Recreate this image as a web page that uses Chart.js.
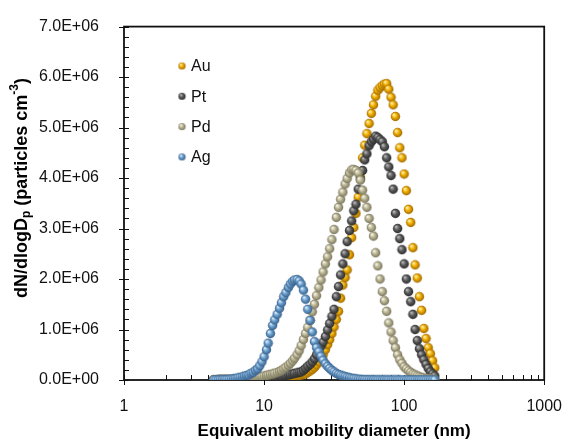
<!DOCTYPE html>
<html lang="en">
<head>
<meta charset="UTF-8" />
<title>Size distributions</title>
<script src="https://cdn.jsdelivr.net/npm/chart.js"></script>
<style>
  body { margin: 0; background: #fff; }
  canvas { display: block; }
</style>
</head>
<body>
<canvas id="chart" width="571" height="442"></canvas>
<script>
// SMPS channel midpoints (nm)
const diameters = [
  4.37, 4.53, 4.70, 4.87, 5.05, 5.23, 5.42, 5.62, 5.83, 6.04,
  6.26, 6.49, 6.73, 6.98, 7.23, 7.50, 7.77, 8.06, 8.35, 8.66,
  8.98, 9.31, 9.65, 10.0, 10.4, 10.7, 11.1, 11.5, 11.9, 12.4,
  12.9, 13.3, 13.8, 14.3, 14.9, 15.4, 16.0, 16.5, 17.2, 17.8,
  18.4, 19.1, 19.8, 20.5, 21.3, 22.1, 22.9, 23.7, 24.6, 25.5,
  26.4, 27.4, 28.4, 29.4, 30.5, 31.6, 32.8, 34.0, 35.2, 36.5,
  37.9, 39.2, 40.7, 42.2, 43.7, 45.3, 47.0, 48.7, 50.5, 52.3,
  54.2, 56.2, 58.3, 60.4, 62.6, 64.9, 67.3, 69.8, 72.3, 75.0,
  77.7, 80.6, 83.5, 86.6, 89.8, 93.1, 96.5, 100.0, 103.7, 107.5,
  111.4, 115.5, 119.7, 124.1, 128.6, 133.3, 138.2, 143.3, 148.6, 154.0,
  159.6, 165.5
];

// dN/dlogDp in units of 1E+06 particles cm-3
const au = [
  0, 0, 0, 0.001, 0.001, 0.001, 0.001, 0.002, 0.002, 0.002,
  0.003, 0.003, 0.004, 0.004, 0.005, 0.006, 0.007, 0.008, 0.009, 0.010,
  0.012, 0.014, 0.016, 0.018, 0.020, 0.022, 0.025, 0.028, 0.030, 0.034,
  0.038, 0.042, 0.046, 0.050, 0.055, 0.060, 0.065, 0.070, 0.080, 0.090,
  0.10, 0.11, 0.12, 0.15, 0.18, 0.21, 0.25, 0.30, 0.36, 0.43,
  0.50, 0.60, 0.70, 0.80, 0.92, 1.05, 1.20, 1.36, 1.62, 1.88,
  2.03, 2.18, 2.48, 2.82, 3.02, 3.30, 3.62, 4.02, 4.40, 4.65,
  4.88, 5.08, 5.28, 5.45, 5.62, 5.74, 5.79, 5.83, 5.86, 5.87,
  5.76, 5.60, 5.45, 5.22, 4.90, 4.60, 4.40, 4.08, 3.75, 3.38,
  3.12, 2.62, 2.28, 2.02, 1.65, 1.38, 1.02, 0.82, 0.64, 0.52,
  0.38, 0.24
];
const pt = [
  0, 0, 0.001, 0.001, 0.001, 0.002, 0.002, 0.003, 0.003, 0.004,
  0.005, 0.006, 0.007, 0.008, 0.010, 0.011, 0.013, 0.015, 0.017, 0.020,
  0.022, 0.025, 0.028, 0.032, 0.036, 0.040, 0.045, 0.050, 0.055, 0.060,
  0.065, 0.070, 0.080, 0.090, 0.10, 0.11, 0.12, 0.13, 0.14, 0.15,
  0.16, 0.19, 0.23, 0.27, 0.31, 0.36, 0.42, 0.50, 0.58, 0.67,
  0.75, 0.86, 0.99, 1.12, 1.26, 1.40, 1.65, 1.85, 2.08, 2.30,
  2.50, 2.74, 2.96, 3.15, 3.35, 3.48, 3.78, 3.98, 4.15, 4.36,
  4.48, 4.64, 4.72, 4.77, 4.83, 4.80, 4.76, 4.72, 4.62, 4.40,
  4.22, 4.05, 3.78, 3.30, 3.00, 2.80, 2.58, 2.30, 2.00, 1.75,
  1.55, 1.30, 1.00, 0.78, 0.62, 0.50, 0.40, 0.31, 0.23, 0.16,
  0.12, 0.08
];
const pd = [
  0.001, 0.001, 0.002, 0.003, 0.004, 0.005, 0.006, 0.008, 0.010, 0.012,
  0.015, 0.018, 0.022, 0.026, 0.030, 0.035, 0.040, 0.045, 0.050, 0.055,
  0.060, 0.065, 0.070, 0.080, 0.090, 0.10, 0.11, 0.12, 0.13, 0.15,
  0.17, 0.19, 0.22, 0.25, 0.29, 0.33, 0.38, 0.43, 0.50, 0.58,
  0.68, 0.80, 0.92, 1.04, 1.18, 1.35, 1.50, 1.67, 1.83, 1.98,
  2.14, 2.30, 2.44, 2.60, 2.78, 2.98, 3.22, 3.42, 3.58, 3.72,
  3.88, 3.99, 4.10, 4.16, 4.17, 4.15, 4.10, 3.96, 3.76, 3.60,
  3.42, 3.20, 3.02, 2.85, 2.52, 2.26, 2.00, 1.75, 1.57, 1.36,
  1.13, 0.95, 0.78, 0.64, 0.50, 0.40, 0.33, 0.26, 0.22, 0.18,
  0.15, 0.12, 0.10, 0.08, 0.065, 0.050, 0.040, 0.030, 0.025, 0.020,
  0.015, 0.010
];
const ag = [
  0, 0, 0.002, 0.003, 0.005, 0.007, 0.009, 0.012, 0.017, 0.022,
  0.030, 0.040, 0.050, 0.060, 0.075, 0.090, 0.10, 0.13, 0.15, 0.19,
  0.22, 0.28, 0.36, 0.46, 0.60, 0.73, 0.92, 1.08, 1.19, 1.30,
  1.42, 1.53, 1.65, 1.73, 1.83, 1.90, 1.95, 1.98, 1.99, 1.96,
  1.90, 1.78, 1.60, 1.40, 1.18, 0.95, 0.76, 0.64, 0.56, 0.47,
  0.39, 0.32, 0.27, 0.23, 0.19, 0.16, 0.13, 0.11, 0.095, 0.080,
  0.070, 0.055, 0.045, 0.035, 0.028, 0.022, 0.017, 0.013, 0.010, 0.008,
  0.006, 0.005, 0.004, 0.003, 0.002, 0.002, 0.002, 0.002, 0.001, 0.001,
  0.001, 0.001, 0.001, 0.001, 0.001, 0.001, 0, 0, 0, 0,
  0, 0, 0, 0, 0, 0, 0, 0, 0, 0,
  0, 0
];

const seriesNames = ['Au', 'Pt', 'Pd', 'Ag'];
const seriesValues = [au, pt, pd, ag];
// highlight, body, shadow
const seriesShades = [
  ['#fff0b0', '#f2b000', '#9c6500'],
  ['#b8b8b8', '#5e5e5e', '#282828'],
  ['#f6f4e6', '#bbb695', '#77735a'],
  ['#dcecf9', '#6b9fcf', '#355d86']
];
const yTickMax = 7;
const xTickLabels = [1, 10, 100, 1000];

function sphere(shades, r) {
  const c = document.createElement('canvas');
  c.width = c.height = Math.ceil(r * 2) + 1;
  const g = c.getContext('2d');
  const m = c.width / 2;
  const grad = g.createRadialGradient(m - r * 0.35, m - r * 0.4, r * 0.1, m, m, r);
  grad.addColorStop(0, shades[0]);
  grad.addColorStop(0.45, shades[1]);
  grad.addColorStop(1, shades[2]);
  g.fillStyle = grad;
  g.beginPath();
  g.arc(m, m, r, 0, Math.PI * 2);
  g.fill();
  return c;
}

const datasets = seriesNames.map((name, i) => ({
  label: name,
  data: diameters.map((d, k) => ({ x: d, y: seriesValues[i][k] })),
  pointStyle: sphere(seriesShades[i], 4.7),
  legendStyle: sphere(seriesShades[i], 3.6),
  showLine: false,
  order: seriesNames.length - i
}));

const frame = {
  id: 'frame',
  beforeDatasetsDraw(chart) {
    const { ctx, chartArea: a, scales: { x, y } } = chart;
    ctx.save();
    ctx.strokeStyle = '#111';
    ctx.lineWidth = 1;
    ctx.beginPath();
    // y ticks: majors cross the axis, 4 minors between
    const yt = y.ticks.map(t => t.value);
    for (let i = 0; i < yt.length; i++) {
      const py = Math.round(y.getPixelForValue(yt[i])) + 0.5;
      ctx.moveTo(a.left - 5, py); ctx.lineTo(a.left + 5, py);
      if (i < yt.length - 1) {
        for (let k = 1; k < 5; k++) {
          const v = yt[i] + (yt[i + 1] - yt[i]) * k / 5;
          const pm = Math.round(y.getPixelForValue(v)) + 0.5;
          ctx.moveTo(a.left, pm); ctx.lineTo(a.left + 5, pm);
        }
      }
    }
    // x ticks from the log scale
    x.ticks.forEach(t => {
      const px = Math.round(x.getPixelForValue(t.value)) + 0.5;
      const major = Math.abs(Math.log10(t.value) % 1) < 1e-6;
      if (major) { ctx.moveTo(px, a.bottom + 5); ctx.lineTo(px, a.bottom - 5); }
      else { ctx.moveTo(px, a.bottom); ctx.lineTo(px, a.bottom - 5); }
    });
    ctx.stroke();
    ctx.lineWidth = 1.8;
    ctx.strokeRect(a.left, a.top, a.right - a.left, a.bottom - a.top);
    ctx.restore();
  },
  afterDraw(chart) {
    const { ctx } = chart;
    ctx.save();
    // legend
    ctx.font = '16px "Liberation Sans", Arial, sans-serif';
    ctx.fillStyle = '#111';
    ctx.textBaseline = 'middle';
    chart.data.datasets.forEach((ds, i) => {
      const cy = 66 + i * 30.3;
      const img = ds.legendStyle;
      ctx.drawImage(img, 182 - img.width / 2, cy - img.height / 2);
      ctx.fillText(ds.label, 191, cy + 1);
    });
    // y axis title with subscript and superscript
    const big = 'bold 18px "Liberation Sans", Arial, sans-serif';
    const small = 'bold 12px "Liberation Sans", Arial, sans-serif';
    const parts = [
      ['dN/dlogD', big, 0], ['p', small, 5], [' (particles cm', big, 0], ['-3', small, -7], [')', big, 0]
    ];
    let total = 0;
    parts.forEach(p => { ctx.font = p[1]; total += ctx.measureText(p[0]).width; });
    ctx.translate(22, 188);
    ctx.rotate(-Math.PI / 2);
    ctx.fillStyle = '#000';
    ctx.textBaseline = 'middle';
    let cx = -total / 2;
    parts.forEach(p => {
      ctx.font = p[1];
      ctx.fillText(p[0], cx, p[2]);
      cx += ctx.measureText(p[0]).width;
    });
    ctx.restore();
  }
};

new Chart(document.getElementById('chart'), {
  type: 'scatter',
  data: { datasets },
  options: {
    responsive: false,
    animation: false,
    layout: { padding: { left: 0, top: 20, right: 23, bottom: 0 } },
    elements: { point: { radius: 4.7, hoverRadius: 4.7 } },
    plugins: { legend: { display: false }, tooltip: { enabled: false } },
    scales: {
      x: {
        type: 'logarithmic',
        min: 1,
        max: 1000,
        grid: { display: false },
        border: { display: false },
        afterFit: s => { s.height = 62; },
        ticks: {
          autoSkip: false,
          maxRotation: 0,
          padding: 9,
          color: '#111',
          font: { family: '"Liberation Sans", Arial, sans-serif', size: 16 },
          callback: v => xTickLabels.includes(v) ? String(v) : ''
        },
        title: {
          display: true,
          text: 'Equivalent mobility diameter (nm)',
          color: '#000',
          padding: { top: 2, bottom: 0 },
          font: { family: '"Liberation Sans", Arial, sans-serif', size: 17, weight: 'bold' }
        }
      },
      y: {
        min: 0,
        max: yTickMax,
        grid: { display: false },
        border: { display: false },
        afterFit: s => { s.width = 124; },
        ticks: {
          stepSize: 1,
          padding: 17,
          color: '#111',
          font: { family: '"Liberation Sans", Arial, sans-serif', size: 16 },
          callback: v => v === 0 ? '0.0E+00' : v.toFixed(1) + 'E+06'
        }
      }
    }
  },
  plugins: [frame]
});
</script>
</body>
</html>
